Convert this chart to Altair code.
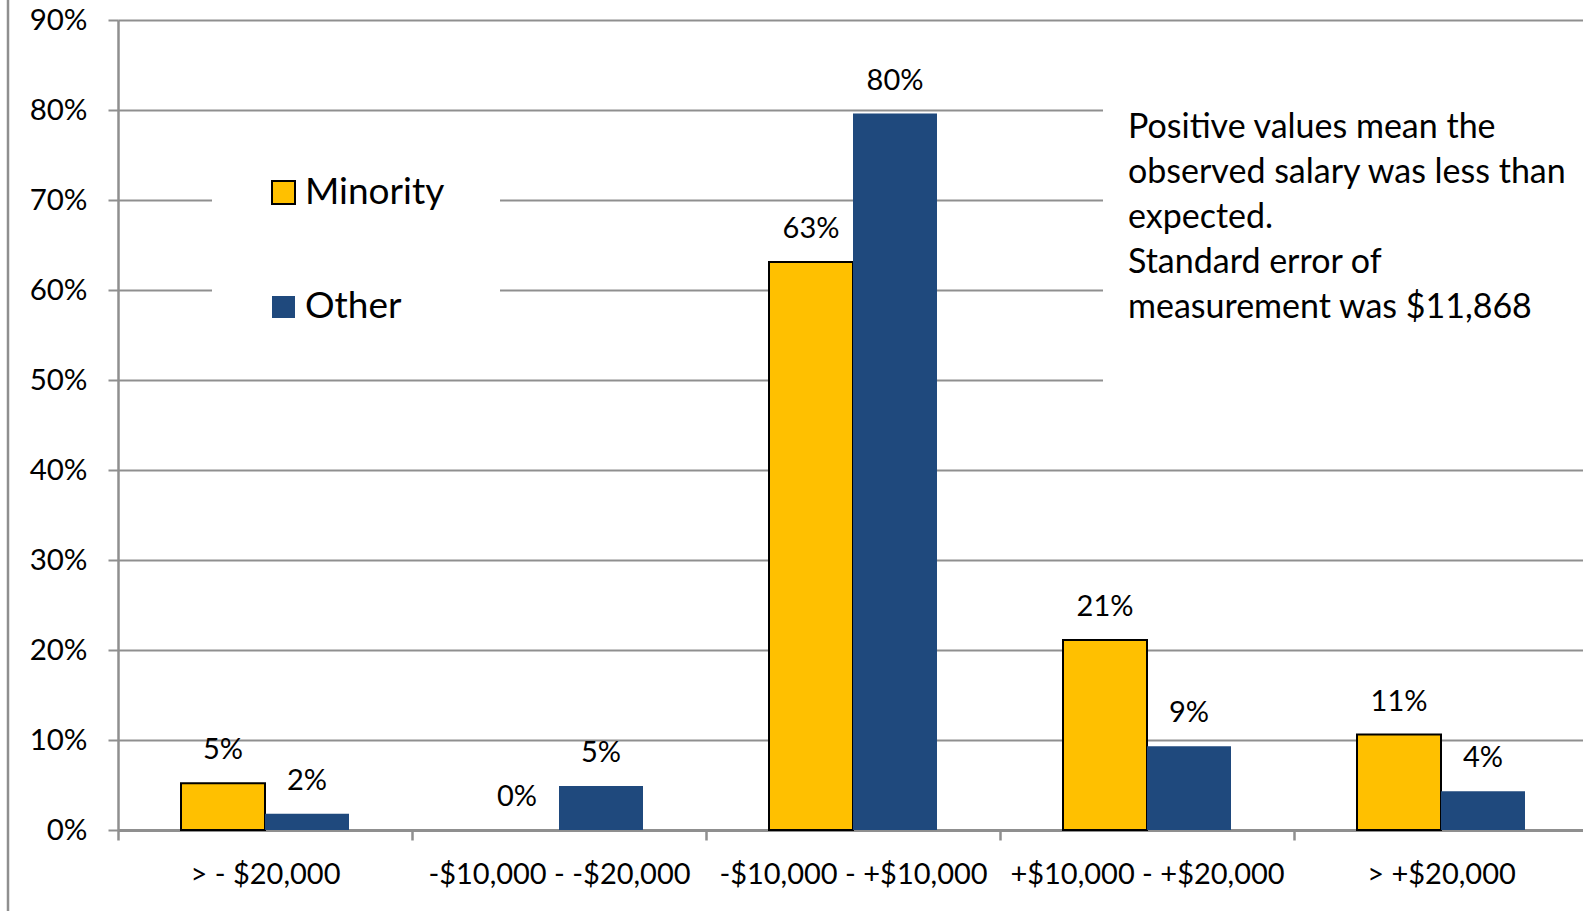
import altair as alt
import pandas as pd

# Salary-residual bands and the share of each group falling in them
categories = [
    "> - $20,000",
    "-$10,000 - -$20,000",
    "-$10,000 - +$10,000",
    "+$10,000 - +$20,000",
    "> +$20,000",
]
series = ["Minority", "Other"]
minority = [0.052, 0.0, 0.631, 0.211, 0.106]
other = [0.018, 0.049, 0.796, 0.093, 0.043]
colors = ["#FFC000", "#1F497D"]
y_ticks = [0.0, 0.1, 0.2, 0.3, 0.4, 0.5, 0.6, 0.7, 0.8, 0.9]
note_lines = [
    "Positive values mean the",
    "observed salary was less than",
    "expected.",
    "Standard error of",
    "measurement was $11,868",
]

FONT = "Lato"
GRID = "#8F8F8F"

rows = []
for cat, m, o in zip(categories, minority, other):
    rows.append({"band": cat, "group": series[0], "share": m})
    rows.append({"band": cat, "group": series[1], "share": o})
df = pd.DataFrame(rows)
one = pd.DataFrame({"k": [0]})

x_enc = alt.X(
    "band:N",
    sort=categories,
    scale=alt.Scale(paddingInner=0, paddingOuter=0, range=[0, 1470]),
    axis=alt.Axis(
        title=None, labelAngle=0, tickBand="extent", grid=False,
        domainColor=GRID, domainWidth=3, tickColor=GRID, tickWidth=2.5, tickSize=10,
        labelFont=FONT, labelFontSize=29, labelColor="black", labelPadding=43,
        labelBaseline="alphabetic", labelOverlap=False, labelLimit=400,
    ),
)
xo_enc = alt.XOffset("group:N", sort=series,
                     scale=alt.Scale(paddingOuter=0.75, paddingInner=0))
y_enc = alt.Y(
    "share:Q",
    scale=alt.Scale(domain=[0, 0.9], nice=False),
    axis=alt.Axis(
        title=None, values=y_ticks, format=".0%", grid=True,
        gridColor=GRID, gridWidth=2, domainColor=GRID, domainWidth=2.5,
        tickColor=GRID, tickWidth=2, tickSize=10,
        labelFont=FONT, labelFontSize=29.5, labelColor="black", labelPadding=21,
    ),
)

# White panels that break the gridlines behind the key and the note
key_bg = alt.Chart(one).mark_rect(color="white").encode(
    x=alt.value(94), x2=alt.value(382), y=alt.value(110), y2=alt.value(340))
note_bg = alt.Chart(one).mark_rect(color="white").encode(
    x=alt.value(985), x2=alt.value(1480), y=alt.value(70), y2=alt.value(375))

bars = alt.Chart(df).mark_bar(stroke="black").encode(
    x=x_enc, xOffset=xo_enc, y=y_enc,
    color=alt.Color("group:N", scale=alt.Scale(domain=series, range=colors), legend=None),
    strokeWidth=alt.condition("datum.group == 'Minority' && datum.share > 0",
                              alt.value(2), alt.value(0)),
)

labels = alt.Chart(df).mark_text(
    font=FONT, fontSize=29, baseline="alphabetic", dy=-24, color="black"
).encode(x=x_enc, xOffset=xo_enc, y=y_enc, text=alt.Text("share:Q", format=".0%"))

# Hand-placed key
key_min_box = alt.Chart(one).mark_rect(color=colors[0], stroke="black", strokeWidth=2).encode(
    x=alt.value(154), x2=alt.value(177), y=alt.value(161), y2=alt.value(184))
key_oth_box = alt.Chart(one).mark_rect(color=colors[1]).encode(
    x=alt.value(154), x2=alt.value(177), y=alt.value(276), y2=alt.value(298))
key_min_txt = alt.Chart(one).mark_text(
    text=series[0], font=FONT, fontSize=37, align="left", baseline="alphabetic", color="black"
).encode(x=alt.value(187), y=alt.value(184))
key_oth_txt = alt.Chart(one).mark_text(
    text=series[1], font=FONT, fontSize=37, align="left", baseline="alphabetic", color="black"
).encode(x=alt.value(187), y=alt.value(298))

note = alt.Chart(one).mark_text(
    text=note_lines, font=FONT, fontSize=34, lineHeight=45,
    align="left", baseline="alphabetic", color="black"
).encode(x=alt.value(1010), y=alt.value(118))

frame = alt.Chart(one).mark_rule(color=GRID, strokeWidth=2.5).encode(
    x=alt.value(-110), y=alt.value(-20), y2=alt.value(891))

chart = alt.layer(
    key_bg, note_bg, bars, labels, key_min_box, key_oth_box,
    key_min_txt, key_oth_txt, note, frame,
).properties(
    width=1465, height=810,
    padding={"left": 118, "top": 20, "right": 0, "bottom": 81},
    autosize=alt.AutoSizeParams(type="none"),
    background="white",
).configure_view(stroke=None)

chart.save("out.html", embed_options={"renderer": "svg", "actions": False})
